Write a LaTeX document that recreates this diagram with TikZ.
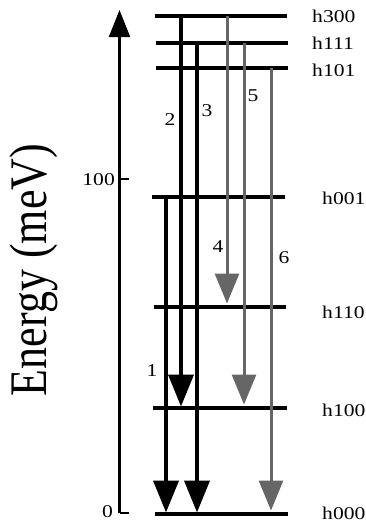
\documentclass[tikz,border=0pt]{standalone}
\usepackage{fontspec}
\usepackage{graphicx}
\setmainfont{Liberation Serif}
\usetikzlibrary{arrows.meta}
\tikzset{
  level/.style={line width=4pt},
  blackarr/.style={line width=4pt, shorten >=1.5pt, -{Triangle[width=25pt,length=32pt]}},
  grayarr/.style={line width=3pt, draw=black!60, shorten >=3.5pt, -{Triangle[width=24pt,length=30pt,fill=black!60]}},
  axisline/.style={line width=2.2pt, -{Triangle[width=21pt,length=27pt]}},
  tick/.style={line width=1.5pt},
  lvlabel/.style={anchor=west, inner sep=0pt, font=\fontsize{18}{20}\selectfont},
  numlabel/.style={inner sep=0pt, font=\fontsize{18}{20}\selectfont},
}
\newcommand{\hs}[1]{\scalebox{1.2}[1]{#1}}
\begin{document}
\begin{tikzpicture}[x=1pt,y=-1pt]
\useasboundingbox (0,0) rectangle (366,522);
% axis
\coordinate (ax0) at (119.5,513);
\coordinate (axtop) at (119.5,10);
\coordinate (ax100) at (119.5,179);
\draw[axisline] (ax0) -- (axtop);
\draw[tick] (ax0) -- ++(9,0);
\draw[tick] (ax100) -- ++(9,0);
\node[numlabel, anchor=east] (t0) at (113,512) {\hs{0}};
\node[numlabel, anchor=east] (t100) at (115,179.5) {\hs{100}};
\node[inner sep=0pt, font=\fontsize{44}{48}\selectfont] (ylab) at (34,270)
  {\scalebox{1.2}[1]{\rotatebox{90}{Energy (meV)}}};
% levels
\draw[level] (155,16) coordinate (h300l) -- (287,16) coordinate (h300r);
\draw[level] (156,43) coordinate (h111l) -- (288,43) coordinate (h111r);
\draw[level] (156,68) coordinate (h101l) -- (288,68) coordinate (h101r);
\draw[level] (152,197) coordinate (h001l) -- (285,197) coordinate (h001r);
\draw[level] (154,307) coordinate (h110l) -- (286,307) coordinate (h110r);
\draw[level] (153,408) coordinate (h100l) -- (287,408) coordinate (h100r);
\draw[level] (155,514) coordinate (h000l) -- (288,514) coordinate (h000r);
% level labels
\node[lvlabel] (l300) at (312,16) {\hs{h300}};
\node[lvlabel] (l111) at (312,43) {\hs{h111}};
\node[lvlabel] (l101) at (312,70) {\hs{h101}};
\node[lvlabel] (l001) at (322,198) {\hs{h001}};
\node[lvlabel] (l110) at (322,312) {\hs{h110}};
\node[lvlabel] (l100) at (322,410) {\hs{h100}};
\node[lvlabel] (l000) at (322,513) {\hs{h000}};
% arrow columns
\coordinate (c1) at (166,0);
\coordinate (c2) at (181,0);
\coordinate (c3) at (197,0);
\coordinate (c4) at (227,0);
\coordinate (c5) at (244,0);
\coordinate (c6) at (271,0);
% black transitions
\draw[blackarr] (c1 |- h001l) -- (c1 |- h000l);
\draw[blackarr] (c2 |- h300l) -- (c2 |- h100l);
\draw[blackarr] (c3 |- h111l) -- (c3 |- h000l);
% gray transitions
\draw[grayarr] (c4 |- h300l) -- (c4 |- h110l);
\draw[grayarr] (c5 |- h111l) -- (c5 |- h100l);
\draw[grayarr] (c6 |- h101l) -- (c6 |- h000l);
% transition labels
\node[numlabel] (n1) at (152,371) {\hs{1}};
\node[numlabel] (n2) at (170,120) {\hs{2}};
\node[numlabel] (n3) at (207,111) {\hs{3}};
\node[numlabel] (n4) at (218,247) {\hs{4}};
\node[numlabel] (n5) at (253,96) {\hs{5}};
\node[numlabel] (n6) at (284,258) {\hs{6}};
\end{tikzpicture}
\end{document}
